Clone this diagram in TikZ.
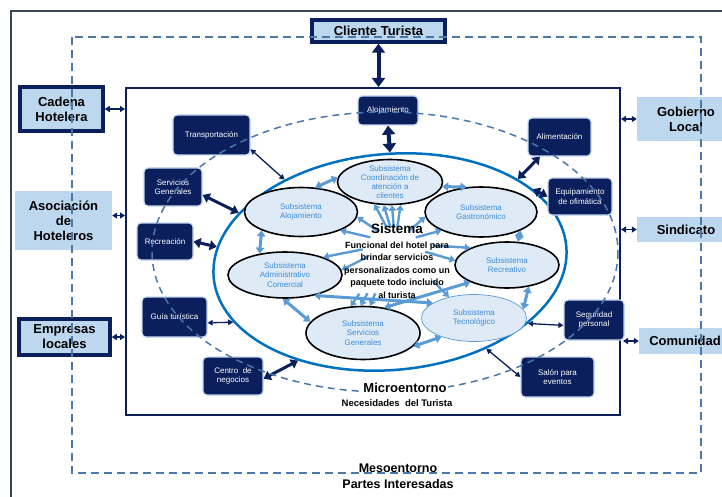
\documentclass[tikz,border=0pt]{standalone}
\usepackage{fontspec}
\setmainfont{Liberation Sans}
\usepackage{tikz}
\usetikzlibrary{calc}
\usetikzlibrary{arrows.meta}
\usetikzlibrary{shapes.geometric}

\definecolor{navy}{HTML}{0A1F5C}
\definecolor{paleblue}{HTML}{BDD7EE}
\definecolor{mesoblue}{HTML}{4A78A8}
\definecolor{sysblue}{HTML}{0070C0}
\definecolor{subfill}{HTML}{DEEAF6}
\definecolor{subtext}{HTML}{3C8DD8}
\definecolor{raycol}{HTML}{5B9BD5}
\definecolor{framecol}{HTML}{3A4558}
\definecolor{glow}{HTML}{C5D8F0}

\begin{document}
\begin{tikzpicture}[x=1pt,y=-1pt]
\tikzstyle{outerbox}=[rectangle,align=center,draw=navy,line width=3.5pt,fill=paleblue,font=\fontsize{13}{15}\selectfont\bfseries,inner sep=0pt]
\tikzstyle{flatbox}=[rectangle,align=center,fill=paleblue,font=\fontsize{13}{15}\selectfont\bfseries,inner sep=0pt]
\tikzstyle{darkbox}=[rectangle,rounded corners=4pt,align=center,draw=glow,line width=1.2pt,fill=navy,text=white,font=\fontsize{8}{9.5}\selectfont,inner sep=0pt]
\tikzstyle{subsis}=[ellipse,draw=black,line width=1.6pt,fill=subfill,inner sep=0pt]
\tikzstyle{subtxt}=[align=center,text=subtext,font=\fontsize{8}{9.2}\selectfont,inner sep=0pt]
\tikzstyle{bigarrow}=[navy,line width=4pt,{Triangle[length=9pt,width=13pt]}-{Triangle[length=9pt,width=13pt]}]
\tikzstyle{midarrow}=[navy,line width=3pt,{Triangle[length=7pt,width=10pt]}-{Triangle[length=7pt,width=10pt]}]
\tikzstyle{thinarrow}=[navy,line width=1.3pt,{Triangle[length=5pt,width=5.5pt]}-{Triangle[length=5pt,width=5.5pt]}]
\tikzstyle{edgearrow}=[navy,line width=1.5pt,{Triangle[length=5pt,width=6pt]}-{Triangle[length=5pt,width=6pt]}]
\tikzstyle{lightarrow}=[raycol,line width=3pt,{Triangle[length=6pt,width=8.5pt]}-{Triangle[length=6pt,width=8.5pt]}]
\tikzstyle{ray}=[raycol,line width=2.4pt,-{Triangle[length=5.5pt,width=7.5pt]}]

\useasboundingbox (0,0) rectangle (722,497);
\fill[white] (0,0) rectangle (722,497);
\clip (0,0) rectangle (722,497);

% frame and microentorno
\draw[framecol,line width=2pt] (11,11) rectangle (740,520);
\node[draw=navy,line width=2pt,fill=white,minimum width=494pt,minimum height=327pt,inner sep=0pt] (micro) at (373,251.5) {};

% partes interesadas
\node[outerbox,minimum width=133pt,minimum height=22pt] (cliente) at (378.5,31) {Cliente Turista};
\node[outerbox,minimum width=83pt,minimum height=44pt] (cadena) at (61.5,109) {Cadena\\Hotelera};
\node[flatbox,minimum width=97pt,minimum height=59pt] (asoc) at (63.5,220.5) {Asociación\\de\\Hoteleros};
\node[outerbox,minimum width=91pt,minimum height=36pt] (empresas) at (64.5,337) {Empresas\\locales};
\node[flatbox,minimum width=98pt,minimum height=44pt] (gobierno) at (686,119) {Gobierno\\Local};
\node[flatbox,minimum width=98pt,minimum height=25pt] (sindicato) at (686,229.5) {Sindicato};
\node[flatbox,minimum width=92pt,minimum height=26pt] (comunidad) at (685,341) {Comunidad};

\draw[bigarrow] (cliente.south) -- (cliente.south |- micro.north);
\draw[edgearrow] (cadena.east) -- (cadena.east -| micro.west);
\draw[edgearrow] ([yshift=5pt]asoc.east) -- ([yshift=5pt]asoc.east -| micro.west);
\draw[edgearrow] (empresas.east) -- (empresas.east -| micro.west);
\draw[edgearrow] (gobierno.west) -- (gobierno.west -| micro.east);
\draw[edgearrow] (sindicato.west) -- (sindicato.west -| micro.east);
\draw[edgearrow] (comunidad.west) -- ([xshift=2pt]comunidad.west -| micro.east);

% sistema
\node[ellipse,draw=sysblue,line width=2.5pt,minimum width=354pt,minimum height=216pt,inner sep=0pt,rotate=5] (sis) at (390,262) {};

% recursos del microentorno
\node[darkbox,minimum width=60pt,minimum height=29pt] (alojbox) at (388,110.5) {Alojamiento};
\node[darkbox,minimum width=77pt,minimum height=40pt] (transp) at (211.5,135) {Transportación};
\node[darkbox,minimum width=58pt,minimum height=38pt] (servgen) at (173,187) {Servicios\\Generales};
\node[darkbox,minimum width=56pt,minimum height=37pt] (recre) at (165,241.5) {Recreación};
\node[darkbox,minimum width=65pt,minimum height=40pt] (guia) at (174.5,317) {Guía turística};
\node[darkbox,minimum width=60pt,minimum height=38pt] (centro) at (233,376) {Centro \ de\\negocios};
\node[darkbox,minimum width=63pt,minimum height=38pt] (alim) at (559.5,137) {Alimentación};
\node[darkbox,minimum width=64pt,minimum height=37pt] (equip) at (580,196.5) {Equipamiento\\de ofimática};
\node[darkbox,minimum width=60pt,minimum height=40pt] (segur) at (594,320) {Seguridad\\personal};
\node[darkbox,minimum width=73pt,minimum height=40pt] (salon) at (557.5,377) {Salón para\\eventos};

\draw[bigarrow] (alojbox.south) -- (sis.85);
\draw[thinarrow] (transp.-20) -- (sis.137);
\draw[midarrow] (servgen.-15) -- (sis.157);
\draw[midarrow] (recre.east) -- (sis.170);
\draw[thinarrow] (guia.-10) -- (sis.196);
\draw[midarrow] (centro.-5) -- (sis.222);
\draw[midarrow] (alim.-135) -- (sis.28);
\draw[midarrow] (equip.west) -- (sis.22);
\draw[thinarrow] (segur.-170) -- (sis.-29);
\draw[thinarrow] (salon.west) -- (sis.-47);

% subsistemas
\node[subsis,minimum width=105pt,minimum height=45pt] (coord) at (390,182) {};
\node[subsis,minimum width=113pt,minimum height=49pt] (aloj) at (301,212) {};
\node[subsis,minimum width=112pt,minimum height=50pt] (gastro) at (481,212) {};
\node[subsis,minimum width=114pt,minimum height=46pt] (admin) at (285,275) {};
\node[subsis,minimum width=104pt,minimum height=46pt] (recr) at (507,265) {};
\node[subsis,minimum width=114pt,minimum height=53pt] (servg) at (363,333) {};
\node[subsis,draw=raycol,line width=0.7pt,minimum width=105pt,minimum height=47pt] (tecno) at (474,318) {};

\node[subtxt] at (coord) {Subsistema\\Coordinación de\\atención a\\clientes};
\node[subtxt] at (aloj) {Subsistema\\Alojamiento};
\node[subtxt] at (gastro) {Subsistema\\Gastronómico};
\node[subtxt] at (admin) {Subsistema\\Administrativo\\Comercial};
\node[subtxt] at (recr) {Subsistema\\Recreativo};
\node[subtxt] at (servg) {Subsistema\\Servicios\\Generales};
\node[subtxt] at (tecno) {Subsistema\\Tecnológico};

\draw[lightarrow] (coord.175) -- (aloj.60);
\draw[lightarrow] (coord.-5) -- (gastro.120);
\draw[lightarrow] (aloj.-155) -- (admin.140);
\draw[lightarrow] (gastro.-25) -- (recr.65);
\draw[lightarrow] (admin.-95) -- (servg.168);
\draw[lightarrow] (servg.-15) -- (tecno.-150);
\draw[lightarrow] (tecno.10) -- (recr.-45);
\draw[lightarrow] (admin.-35) -- (tecno.160);
\draw[lightarrow] (servg.50) -- (recr.-155);

\coordinate (hub) at (395,243);
\foreach \t/\f in {coord.-125/0.4, coord.-105/0.4, coord.-85/0.4, coord.-65/0.4,
                   aloj.-5/0.45, aloj.-25/0.45, gastro.185/0.45, gastro.205/0.45,
                   admin.25/0.45, admin.5/0.5, recr.175/0.5, recr.155/0.5,
                   servg.75/0.8, servg.95/0.8, servg.115/0.8, tecno.140/0.7}
  \draw[ray] ($(hub)!\f!(\t)$) -- (\t);

\node[align=center,font=\fontsize{9}{12.5}\selectfont\bfseries,inner sep=0pt] (systxt) at (397,261)
  {{\fontsize{13.5}{16}\selectfont Sistema}\\[2.5pt]Funcional del hotel para\\brindar servicios\\personalizados como un\\paquete todo incluido\\al turista};

% entornos
\draw[mesoblue,line width=1.5pt,dash pattern=on 7pt off 5pt] (385,252) ellipse [x radius=233, y radius=140];
\draw[mesoblue,line width=1.8pt,dash pattern=on 8pt off 5pt] (72,37) rectangle (701,473);

\node[fill=white,inner sep=1pt,font=\fontsize{13}{15}\selectfont\bfseries] (microlbl) at (405,388) {Microentorno};
\node[font=\fontsize{9.5}{11}\selectfont\bfseries] (necesid) at (397,403) {Necesidades \ del Turista};
\node[align=center,font=\fontsize{12.5}{16}\selectfont\bfseries] (mesolbl) at (398,476) {Mesoentorno\\Partes Interesadas};
\end{tikzpicture}
\end{document}
